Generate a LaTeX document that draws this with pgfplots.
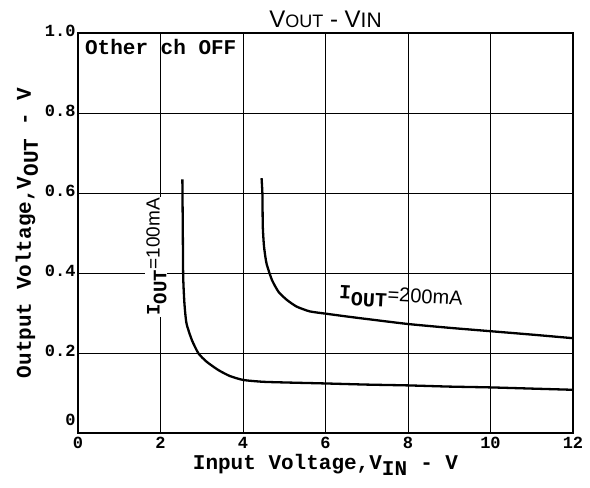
\documentclass[border=0pt]{standalone}
\usepackage{fontspec}
\setmainfont{Liberation Mono}
\newfontfamily\sansf{Liberation Sans}
\usepackage{pgfplots}
\pgfplotsset{compat=1.18}
\begin{document}
\begin{tikzpicture}
\begin{axis}[
  scale only axis,
  width=495pt, height=400pt,
  xmin=0, xmax=12, ymin=0, ymax=1.0,
  xtick={0,2,4,6,8,10,12},
  ytick={0.2,0.4,0.6,0.8,1.0},
  xticklabels={\textbf{0},\textbf{2},\textbf{4},\textbf{6},\textbf{8},\textbf{10},\textbf{12}},
  yticklabels={\textbf{0.2},\textbf{0.4},\textbf{0.6},\textbf{0.8},\textbf{1.0}},
  extra y ticks={0},
  extra y tick labels={\textbf{0}},
  extra y tick style={grid=none, yticklabel style={yshift=11pt}},
  tick label style={font=\fontsize{17}{18}\selectfont},
  xticklabel style={yshift=-1pt},
  yticklabel style={yshift=2pt, xshift=1pt},
  major tick length=0pt,
  grid=major,
  major grid style={black, line width=0.7pt},
  axis line style={black, line width=1.4pt},
  xlabel={\textbf{Input Voltage,V$_{\textbf{IN}}$ - V}},
  ylabel={\textbf{Output Voltage,V$_{\textbf{OUT}}$ - V}},
  label style={font=\fontsize{21}{22}\selectfont},
  xlabel style={yshift=2pt},
  ylabel style={yshift=0pt},
  title={{\sansf\fontsize{24}{25}\selectfont V{\fontsize{18}{19}\selectfont OUT} - V{\fontsize{21}{22}\selectfont IN}}},
  title style={yshift=-4pt},
]
\addplot[black, line width=2.3pt, smooth, tension=0.35] coordinates {
(2.53,0.634)(2.54,0.516)(2.55,0.391)(2.58,0.324)(2.63,0.274)(2.76,0.2325)(2.92,0.199)(3.12,0.178)(3.40,0.1575)(3.68,0.1425)(4.01,0.1325)(4.49,0.128)(5.14,0.126)(5.95,0.124)(7,0.121)(8,0.119)(9,0.116)(10,0.114)(11,0.111)(12,0.108)
};
\addplot[black, line width=2.3pt, smooth, tension=0.35] coordinates {
(4.45,0.637)(4.47,0.599)(4.48,0.516)(4.51,0.466)(4.57,0.424)(4.70,0.383)(4.86,0.353)(5.06,0.333)(5.30,0.316)(5.62,0.304)(6.03,0.298)(6.5,0.2915)(7,0.285)(8,0.2725)(9,0.263)(10,0.2545)(11,0.246)(12,0.237)
};
\node[anchor=north west, inner sep=2pt, font=\fontsize{21}{22}\selectfont\bfseries] at (axis cs:0.12,0.99) {Other ch OFF};
\node[rotate=90, font=\fontsize{19}{20}\selectfont, fill=white, inner sep=1pt] at (axis cs:1.9,0.44) {\textbf{I}$_{\textbf{OUT}}${\sansf\fontsize{19}{20}\selectfont=100mA}};
\node[anchor=west, font=\fontsize{20}{21}\selectfont, inner sep=1pt, rotate=-3] at (axis cs:6.3,0.345) {\textbf{I}$_{\textbf{OUT}}${\sansf\fontsize{20}{21}\selectfont=200mA}};
\end{axis}
\path ([shift={(-78pt,-55pt)}]current axis.south west) rectangle ([shift={(17pt,33pt)}]current axis.north east);
\end{tikzpicture}
\end{document}
